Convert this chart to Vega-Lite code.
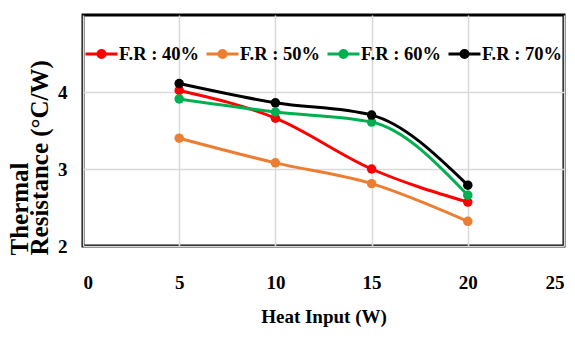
{
  "$schema": "https://vega.github.io/schema/vega-lite/v6.json",
  "width": 481,
  "height": 231,
  "autosize": "none",
  "padding": {"left": 83, "top": 15, "right": 11, "bottom": 94},
  "background": "white",
  "config": {
    "font": "'Liberation Serif', 'Times New Roman', 'DejaVu Serif', serif",
    "view": {"stroke": "black", "strokeWidth": 3},
    "axis": {
      "gridColor": "#d9d9d9",
      "gridWidth": 1.5,
      "ticks": false,
      "domain": false,
      "labelFont": "'Liberation Serif', 'Times New Roman', 'DejaVu Serif', serif",
      "labelFontWeight": "bold",
      "labelFontSize": 19,
      "labelColor": "black",
      "titleFont": "'Liberation Serif', 'Times New Roman', 'DejaVu Serif', serif",
      "titleFontWeight": "bold",
      "titleColor": "black"
    }
  },
  "data": {
    "values": [
      {"x": 5, "y": 4.02, "s": "F.R : 40%"},
      {"x": 10, "y": 3.66, "s": "F.R : 40%"},
      {"x": 15, "y": 3.0, "s": "F.R : 40%"},
      {"x": 20, "y": 2.57, "s": "F.R : 40%"},
      {"x": 5, "y": 3.4, "s": "F.R : 50%"},
      {"x": 10, "y": 3.08, "s": "F.R : 50%"},
      {"x": 15, "y": 2.81, "s": "F.R : 50%"},
      {"x": 20, "y": 2.32, "s": "F.R : 50%"},
      {"x": 5, "y": 3.91, "s": "F.R : 60%"},
      {"x": 10, "y": 3.74, "s": "F.R : 60%"},
      {"x": 15, "y": 3.61, "s": "F.R : 60%"},
      {"x": 20, "y": 2.66, "s": "F.R : 60%"},
      {"x": 5, "y": 4.11, "s": "F.R : 70%"},
      {"x": 10, "y": 3.86, "s": "F.R : 70%"},
      {"x": 15, "y": 3.7, "s": "F.R : 70%"},
      {"x": 20, "y": 2.79, "s": "F.R : 70%"}
    ]
  },
  "encoding": {
    "x": {
      "field": "x",
      "type": "quantitative",
      "scale": {"domain": [0, 25], "nice": false},
      "axis": {
        "values": [0, 5, 10, 15, 20, 25],
        "title": "Heat Input  (W)",
        "titleFontSize": 19,
        "labelPadding": 27,
        "titlePadding": 15
      }
    },
    "y": {
      "field": "y",
      "type": "quantitative",
      "scale": {"domain": [2, 5], "nice": false, "zero": false},
      "axis": {
        "values": [2, 3, 4],
        "title": ["Thermal", "Resistance (°C/W)"],
        "titleFontSize": 25,
        "titleLineHeight": 20,
        "titleAngle": -90,
        "titleAlign": "left",
        "titleBaseline": "alphabetic",
        "titleX": -56,
        "titleY": 240,
        "labelPadding": 16
      }
    },
    "color": {
      "field": "s",
      "type": "nominal",
      "scale": {
        "domain": ["F.R : 40%", "F.R : 50%", "F.R : 60%", "F.R : 70%"],
        "range": ["#ff0000", "#ed7d31", "#00b050", "#000000"]
      },
      "legend": {
        "title": null,
        "orient": "none",
        "direction": "horizontal",
        "legendX": 1,
        "legendY": 21,
        "columns": 4,
        "columnPadding": 1,
        "symbolType": "M-1,0H1M-0.22,0A0.22,0.22,0,1,1,0.22,0A0.22,0.22,0,1,1,-0.22,0Z",
        "symbolSize": 1024,
        "symbolStrokeWidth": 3,
        "symbolOffset": 0,
        "labelFont": "'Liberation Serif', 'Times New Roman', 'DejaVu Serif', serif",
        "labelFontWeight": "bold",
        "labelFontSize": 18.5,
        "labelColor": "black",
        "labelOffset": 0,
        "encode": {
          "symbols": {"update": {"fill": {"scale": "color", "field": "value"}, "opacity": {"value": 1}}}
        }
      }
    }
  },
  "layer": [
    {"mark": {"type": "line", "interpolate": "monotone", "strokeWidth": 3}},
    {"mark": {"type": "point", "filled": true, "size": 90, "opacity": 1}}
  ]
}
